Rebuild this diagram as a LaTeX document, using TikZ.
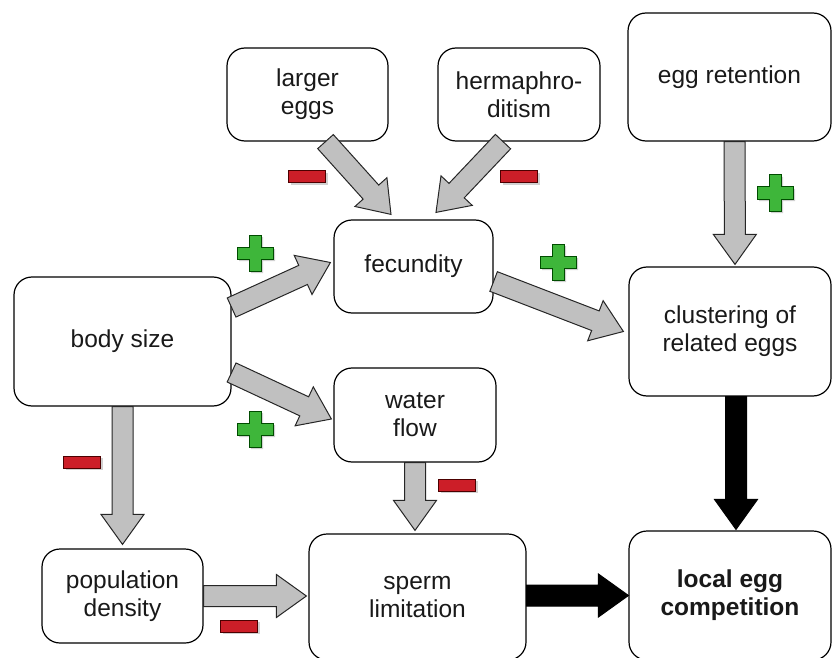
\documentclass[tikz,border=0pt]{standalone}
\usepackage{fontspec}
\setmainfont{Liberation Sans}
\usetikzlibrary{calc}

\definecolor{arrowgray}{RGB}{192,192,192}
\definecolor{plusgreen}{RGB}{62,182,58}
\definecolor{minusred}{RGB}{204,30,40}

\tikzset{
  box/.style={draw, line width=1.2pt, rounded corners=18pt, inner sep=0pt,
    align=center, font=\fontsize{24.5}{28}\selectfont, text=black!90},
  grayarrow/.style={fill=arrowgray, draw=black!85, line width=1pt},
  blackarrow/.style={fill=black, draw=black, line width=1pt},
  possign/.pic={
    \fill[black!18] (-4,-16) -- (8,-16) -- (8,-4) -- (20,-4) -- (20,8) -- (8,8) -- (8,20)
      -- (-4,20) -- (-4,8) -- (-16,8) -- (-16,-4) -- (-4,-4) -- cycle;
    \filldraw[fill=plusgreen, draw=green!30!black, line width=1pt]
      (-6,-18) -- (6,-18) -- (6,-6) -- (18,-6) -- (18,6) -- (6,6) -- (6,18)
      -- (-6,18) -- (-6,6) -- (-18,6) -- (-18,-6) -- (-6,-6) -- cycle;},
  negsign/.pic={
    \fill[black!18] (-16.5,-4) rectangle (20.5,8);
    \filldraw[fill=minusred, draw=red!30!black, line width=1pt]
      (-18.5,-6) rectangle (18.5,6);}
}

% block arrow from #2 to #3
\newcommand{\fatarrow}[3][grayarrow]{%
  \coordinate (h) at ($(#3)!30pt!(#2)$);
  \draw[#1] ($(#2)!10.5pt!90:(#3)$) -- ($(h)!10.5pt!-90:(#2)$)
    -- ($(h)!21.5pt!-90:(#2)$) -- (#3) -- ($(h)!21.5pt!90:(#2)$)
    -- ($(h)!10.5pt!90:(#2)$) -- ($(#2)!10.5pt!-90:(#3)$) -- cycle;}

\begin{document}
\begin{tikzpicture}[x=1pt, y=-1pt]
  \useasboundingbox (0,0) rectangle (833,658);
  \clip (0,0) rectangle (833,658);

  % boxes
  \node[box, minimum width=161pt, minimum height=93pt] (largeeggs) at (307.5,94.5) {larger\\eggs};
  \node[box, minimum width=162pt, minimum height=93pt] (herm) at (519,94.5) {hermaphro-\\ditism};
  \node[box, minimum width=203pt, minimum height=128pt] (retention) at (729.5,77) {egg retention};
  \node[box, minimum width=159pt, minimum height=93pt] (fecundity) at (413.5,266.5) {fecundity};
  \node[box, minimum width=217pt, minimum height=129pt] (body) at (122.5,341.5) {body size};
  \node[box, minimum width=162pt, minimum height=94pt] (water) at (415,415) {water\\flow};
  \node[box, minimum width=202pt, minimum height=129pt] (clustering) at (730,331.5) {clustering of\\related eggs};
  \node[box, minimum width=161pt, minimum height=94pt] (density) at (122.5,596) {population\\density};
  \node[box, minimum width=217pt, minimum height=126pt] (sperm) at (417.5,597) {sperm\\limitation};
  \node[box, minimum width=202pt, minimum height=129pt] (local) at (730,595.5) {\bfseries local egg\\\bfseries competition};

  % arrow ends
  \coordinate (le-a) at ($(largeeggs.south)+(18,0)$);
  \coordinate (fe-a) at ($(fecundity.north)+(-22.5,-5)$);
  \coordinate (he-a) at ($(herm.south)+(-16,0)$);
  \coordinate (fe-b) at ($(fecundity.north)+(22.5,-7)$);
  \coordinate (bo-a) at ($(body.east)+(0,-34)$);
  \coordinate (fe-c) at ($(fecundity.west)+(-3,-4)$);
  \coordinate (bo-b) at ($(body.east)+(0,31)$);
  \coordinate (wa-a) at ($(water.west)+(-2,4)$);
  \coordinate (fe-d) at ($(fecundity.east)+(0,15)$);
  \coordinate (cl-a) at ($(clustering.west)+(-5,0)$);
  \coordinate (re-a) at ($(retention.south)+(5,0)$);
  \coordinate (cl-b) at ($(clustering.north)+(5,-2)$);
  \coordinate (de-a) at ($(density.north)+(0,-4)$);
  \coordinate (sp-a) at ($(sperm.north)+(-2.5,-3)$);
  \coordinate (sp-b) at ($(density.east -| sperm.west)+(-2,0)$);
  \coordinate (sp-c) at (sperm.east |- local.west);
  \coordinate (cl-c) at ($(clustering.south)+(6,0)$);
  \coordinate (lo-a) at ($(local.north)+(6,-1)$);

  % arrows
  \fatarrow{le-a}{fe-a}
  \fatarrow{he-a}{fe-b}
  \fatarrow{bo-a}{fe-c}
  \fatarrow{bo-b}{wa-a}
  \fatarrow{fe-d}{cl-a}
  \fatarrow{re-a}{cl-b}
  \fatarrow{body.south}{de-a}
  \fatarrow{water.south}{sp-a}
  \fatarrow{density.east}{sp-b}
  \fatarrow[blackarrow]{sp-c}{local.west}
  \fatarrow[blackarrow]{cl-c}{lo-a}

  % signs
  \pic at (307,177) {negsign};
  \pic at (519,177) {negsign};
  \pic at (82,462) {negsign};
  \pic at (457,485) {negsign};
  \pic at (239,626) {negsign};
  \pic at (255,253) {possign};
  \pic at (558,262) {possign};
  \pic at (775,193) {possign};
  \pic at (255,429) {possign};
\end{tikzpicture}
\end{document}
